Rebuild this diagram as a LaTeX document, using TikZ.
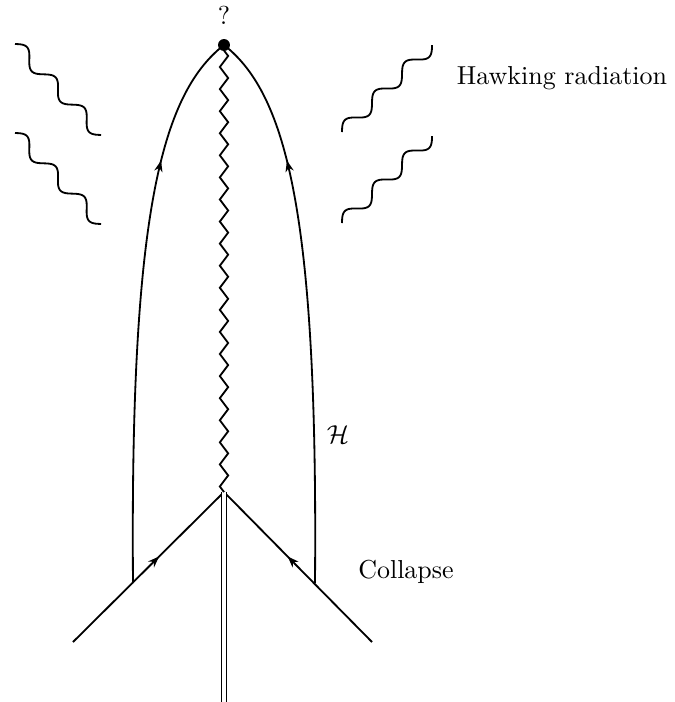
\documentclass[tikz,border=0pt]{standalone}
\usetikzlibrary{arrows.meta,decorations.pathmorphing,decorations.markings}
\begin{document}
\begin{tikzpicture}[x=0.385pt,y=-0.385pt,>={Stealth[length=4.3pt,width=3.2pt]},line width=0.7pt,
  midarrow/.style={postaction={decorate},
    decoration={markings,mark=at position #1 with {\arrow{>}}}},
  kink/.style={decorate,decoration={zigzag,segment length=8.5pt,amplitude=1.6pt}}]
\useasboundingbox (0,0) rectangle (675,702);
% points of the diagram
\coordinate (apex) at (224,45);
\coordinate (junc) at (224,492);
\coordinate (bot) at (224,702);
\coordinate (lfoot) at (73,642);
\coordinate (rfoot) at (372,642);
\coordinate (lhor) at (133,583);
\coordinate (rhor) at (315,583);
% collapsing shell
\draw[midarrow=0.57] (lfoot) -- (junc);
\draw[midarrow=0.57] (rfoot) -- (junc);
\draw[double,double distance=1.2pt,line width=0.55pt] (junc) -- (bot);
% horizon
\draw[midarrow=0.76] (lhor) .. controls (130,220) and (160,95) .. (apex);
\draw[midarrow=0.76] (rhor) .. controls (318,220) and (288,95) .. (apex);
% singularity
\draw[kink] (junc) -- (apex);
\fill (apex) circle[radius=2.3pt];
% radiation
\draw[shift={(15,44)},rotate=-46.6] plot[domain=0:125.2,samples=90,smooth] (\x,{-6.6*sin(\x*8.627)});
\draw[shift={(15,133)},rotate=-46.6] plot[domain=0:125.2,samples=90,smooth] (\x,{-6.6*sin(\x*8.627)});
\draw[shift={(342,132)},rotate=44] plot[domain=0:125.2,samples=90,smooth] (\x,{-6.6*sin(\x*8.627)});
\draw[shift={(342,223)},rotate=44] plot[domain=0:125.2,samples=90,smooth] (\x,{-6.6*sin(\x*8.627)});
% labels
\node (q) at (224,15) {?};
\node (hawk) at (562,78) {Hawking radiation};
\node (hor) at (338,435) {$\mathcal{H}$};
\node (coll) at (406,572) {Collapse};
\end{tikzpicture}
\end{document}
